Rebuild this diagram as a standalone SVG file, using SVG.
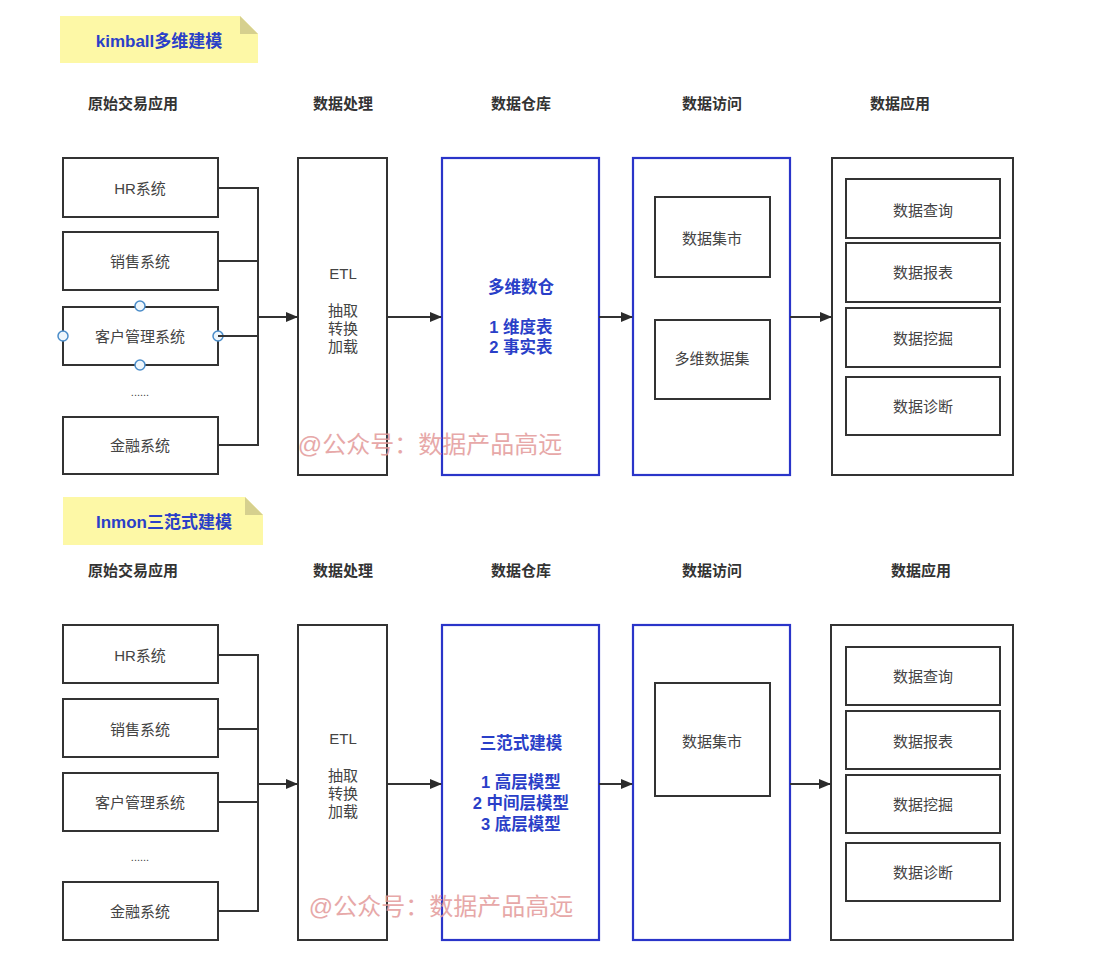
<svg xmlns="http://www.w3.org/2000/svg" width="1095" height="958" viewBox="0 0 1095 958">
<defs>
<marker id="arr" markerWidth="12" markerHeight="10" refX="11" refY="5" orient="auto" markerUnits="userSpaceOnUse">
<path d="M0,0 L12,5 L0,10 Z" fill="#2b2b2b"/>
</marker>
<style>
text{font-family:"Liberation Sans","Noto Sans CJK SC",sans-serif;text-anchor:middle;dominant-baseline:central}
.box{fill:#fff;stroke:#333;stroke-width:2}
.bbox{fill:#fff;stroke:#2a35c9;stroke-width:2.2}
.t{font-size:15px;fill:#444}
.h{font-size:15px;fill:#333;font-weight:bold}
.b{font-size:16.5px;fill:#2a3fc8;font-weight:bold}
.nt{font-size:17px;fill:#2a3fc8;font-weight:bold}
.note{fill:#fdf8a6}
.fold{fill:#d6d08e}
.wm{font-size:24px;fill:#e39a9a;opacity:0.85}
.c{fill:none;stroke:#333;stroke-width:2}
.a{fill:none;stroke:#333;stroke-width:2;marker-end:url(#arr)}
.hd{fill:#eef6fc;stroke:#4a8cc9;stroke-width:1.5}
</style>
</defs>
<rect width="1095" height="958" fill="#fff"/>

<!-- ===== Top: kimball ===== -->
<g id="note-kimball">
<path class="note" d="M60,16 H240 L258,34 V63 H60 Z"/>
<path class="fold" d="M240,16 L258,34 H240 Z"/>
<text class="nt" x="159" y="41">kimball多维建模</text>
</g>
<g id="headers-top">
<text class="h" x="133" y="103">原始交易应用</text>
<text class="h" x="343" y="103">数据处理</text>
<text class="h" x="521" y="103">数据仓库</text>
<text class="h" x="712" y="103">数据访问</text>
<text class="h" x="900" y="103">数据应用</text>
</g>
<g id="t-hr"><rect class="box" x="63" y="158" width="155" height="59"/><text class="t" x="140" y="188">HR系统</text></g>
<g id="t-sales"><rect class="box" x="63" y="232" width="155" height="58"/><text class="t" x="140" y="261">销售系统</text></g>
<g id="t-crm"><rect class="box" x="63" y="307" width="155" height="58"/><text class="t" x="140" y="336">客户管理系统</text>
<circle class="hd" cx="140" cy="306" r="5"/><circle class="hd" cx="140" cy="365" r="5"/><circle class="hd" cx="63" cy="336" r="5"/><circle class="hd" cx="218" cy="336" r="5"/></g>
<g id="t-dots"><text class="t" x="140" y="392" style="font-size:11px">......</text></g>
<g id="t-fin"><rect class="box" x="63" y="417" width="155" height="57"/><text class="t" x="140" y="445">金融系统</text></g>
<g id="t-etl"><rect class="box" x="298" y="158" width="89" height="317"/>
<text class="t" x="343" y="273">ETL</text><text class="t" x="343" y="310">抽取</text><text class="t" x="343" y="328">转换</text><text class="t" x="343" y="346">加载</text></g>
<g id="t-dw"><rect class="bbox" x="442" y="158" width="157" height="317"/>
<text class="b" x="521" y="287">多维数仓</text><text class="b" x="521" y="327">1 维度表</text><text class="b" x="521" y="347">2 事实表</text></g>
<g id="t-access"><rect class="bbox" x="633" y="158" width="157" height="317"/>
<rect class="box" x="655" y="197" width="115" height="80"/><text class="t" x="712" y="238">数据集市</text>
<rect class="box" x="655" y="320" width="115" height="79"/><text class="t" x="712" y="358">多维数据集</text></g>
<g id="t-app"><rect class="box" x="832" y="158" width="181" height="317"/>
<rect class="box" x="846" y="179" width="154" height="59"/><text class="t" x="923" y="210">数据查询</text>
<rect class="box" x="846" y="243" width="154" height="59"/><text class="t" x="923" y="272">数据报表</text>
<rect class="box" x="846" y="308" width="154" height="59"/><text class="t" x="923" y="338">数据挖掘</text>
<rect class="box" x="846" y="377" width="154" height="58"/><text class="t" x="923" y="406">数据诊断</text></g>
<g id="connectors-top">
<path class="c" d="M218,188 H258 V445 H218 M218,261 H258 M218,336 H258"/>
<path class="a" d="M258,317 H297"/>
<path class="a" d="M387,317 H441"/>
<path class="a" d="M599,317 H632"/>
<path class="a" d="M790,317 H831"/>
</g>
<text class="wm" x="430" y="444">@公众号：数据产品高远</text>

<!-- ===== Bottom: Inmon ===== -->
<g id="note-inmon">
<path class="note" d="M63,497 H245 L263,515 V545 H63 Z"/>
<path class="fold" d="M245,497 L263,515 H245 Z"/>
<text class="nt" x="164" y="522">Inmon三范式建模</text>
</g>
<g id="headers-bottom">
<text class="h" x="133" y="570">原始交易应用</text>
<text class="h" x="343" y="570">数据处理</text>
<text class="h" x="521" y="570">数据仓库</text>
<text class="h" x="712" y="570">数据访问</text>
<text class="h" x="921" y="570">数据应用</text>
</g>
<g id="b-hr"><rect class="box" x="63" y="625" width="155" height="58"/><text class="t" x="140" y="655">HR系统</text></g>
<g id="b-sales"><rect class="box" x="63" y="699" width="155" height="58"/><text class="t" x="140" y="729">销售系统</text></g>
<g id="b-crm"><rect class="box" x="63" y="773" width="155" height="58"/><text class="t" x="140" y="802">客户管理系统</text></g>
<g id="b-dots"><text class="t" x="140" y="857" style="font-size:11px">......</text></g>
<g id="b-fin"><rect class="box" x="63" y="882" width="155" height="58"/><text class="t" x="140" y="911">金融系统</text></g>
<g id="b-etl"><rect class="box" x="298" y="625" width="89" height="315"/>
<text class="t" x="343" y="738">ETL</text><text class="t" x="343" y="775">抽取</text><text class="t" x="343" y="793">转换</text><text class="t" x="343" y="811">加载</text></g>
<g id="b-dw"><rect class="bbox" x="442" y="625" width="157" height="315"/>
<text class="b" x="521" y="743">三范式建模</text><text class="b" x="521" y="782">1 高层模型</text><text class="b" x="521" y="803">2 中间层模型</text><text class="b" x="521" y="824">3 底层模型</text></g>
<g id="b-access"><rect class="bbox" x="633" y="625" width="157" height="315"/>
<rect class="box" x="655" y="683" width="115" height="113"/><text class="t" x="712" y="741">数据集市</text></g>
<g id="b-app"><rect class="box" x="831" y="625" width="182" height="315"/>
<rect class="box" x="846" y="647" width="154" height="58"/><text class="t" x="923" y="676">数据查询</text>
<rect class="box" x="846" y="711" width="154" height="58"/><text class="t" x="923" y="741">数据报表</text>
<rect class="box" x="846" y="775" width="154" height="58"/><text class="t" x="923" y="804">数据挖掘</text>
<rect class="box" x="846" y="843" width="154" height="58"/><text class="t" x="923" y="872">数据诊断</text></g>
<g id="connectors-bottom">
<path class="c" d="M218,655 H258 V911 H218 M218,729 H258 M218,802 H258"/>
<path class="a" d="M258,784 H297"/>
<path class="a" d="M387,784 H441"/>
<path class="a" d="M599,784 H632"/>
<path class="a" d="M790,784 H830"/>
</g>
<text class="wm" x="441" y="906">@公众号：数据产品高远</text>
</svg>
